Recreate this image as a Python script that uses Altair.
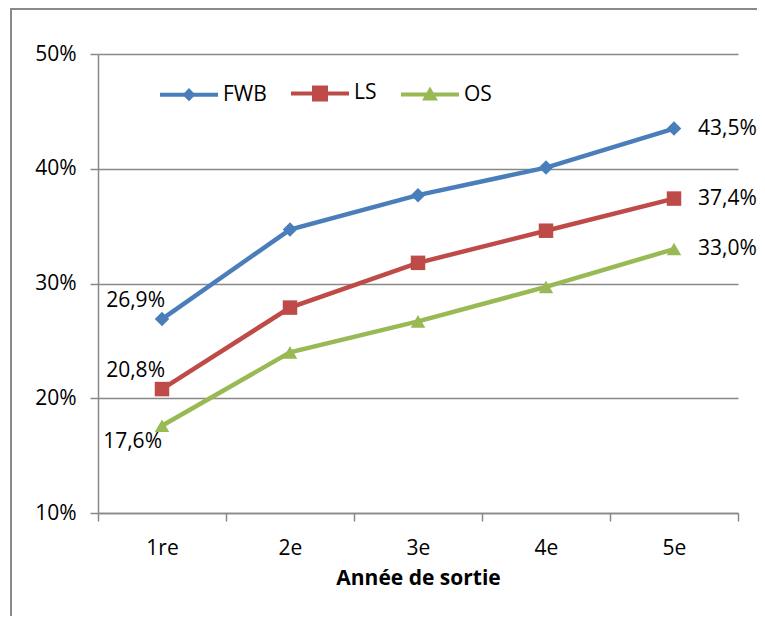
import altair as alt
import pandas as pd

categories = ["1re", "2e", "3e", "4e", "5e"]
series_names = ["FWB", "LS", "OS"]
fwb = [26.9, 34.7, 37.7, 40.1, 43.5]
ls = [20.8, 27.9, 31.8, 34.6, 37.4]
os_ = [17.6, 24.0, 26.7, 29.7, 33.0]
colors = ["#4A7EBB", "#BE4B48", "#98B954"]
y_ticks = [10, 20, 30, 40, 50]

FONT = "Open Sans"
GREY = "#898989"

rows = []
for name, vals in zip(series_names, [fwb, ls, os_]):
    for i, (c, v) in enumerate(zip(categories, vals)):
        pos = "first" if i == 0 else ("last" if i == len(categories) - 1 else "mid")
        rows.append({"year": c, "series": name, "value": v,
                     "label": f"{v:.1f}".replace(".", ",") + "%", "pos": pos})
df = pd.DataFrame(rows)

x = alt.X("year:N", sort=categories,
          scale=alt.Scale(type="band", domain=categories, paddingInner=0, paddingOuter=0),
          axis=alt.Axis(title="Année de sortie", tickBand="extent", grid=False, labelAngle=0,
                        domainColor=GREY, domainWidth=1.5, tickColor=GREY, tickWidth=1.5,
                        tickSize=8, labelPadding=16, labelFont=FONT, labelFontSize=21,
                        labelColor="black", titleFont=FONT, titleFontSize=21,
                        titleFontWeight="bold", titleColor="black", titlePadding=9))
y = alt.Y("value:Q", scale=alt.Scale(domain=[10, 50], nice=False, zero=False),
          axis=alt.Axis(values=y_ticks, labelExpr="datum.value + '%'", title=None,
                        grid=True, gridColor=GREY, gridWidth=1.5,
                        domainColor=GREY, domainWidth=1.5, tickColor=GREY, tickWidth=1.5,
                        tickSize=8, labelPadding=14, labelFont=FONT, labelFontSize=21,
                        labelColor="black"))

color = alt.Color("series:N", scale=alt.Scale(domain=series_names, range=colors), legend=None)

base = alt.Chart(df).encode(x=x, y=y)

lines = base.mark_line(strokeWidth=4.5).encode(color=color, detail="series:N")
points = base.mark_point(filled=True, size=210, opacity=1).encode(
    color=color,
    shape=alt.Shape("series:N", scale=alt.Scale(domain=series_names,
                                                range=["diamond", "square", "triangle-up"]),
                    legend=None))

txt = dict(font=FONT, fontSize=21, color="black")
t_first_up = base.mark_text(align="right", dx=3, dy=-18, **txt).encode(text="label:N").transform_filter(
    "datum.pos == 'first' && datum.series != 'OS'")
t_first_down = base.mark_text(align="right", dx=0, dy=16, **txt).encode(text="label:N").transform_filter(
    "datum.pos == 'first' && datum.series == 'OS'")
t_last = base.mark_text(align="left", dx=24, dy=0, **txt).encode(text="label:N").transform_filter(
    "datum.pos == 'last'")

# legend symbols: line segment plus nested outlines that the 4px stroke fills in
paths = [
    "M-1,0H1M0,-0.128L0.128,0L0,0.128L-0.128,0Z",
    "M-1,0H1M-0.207,-0.207H0.207V0.207H-0.207ZM-0.086,-0.086H0.086V0.086H-0.086Z",
    "M-1,0H1M0,-0.14L0.155,0.13H-0.155Z",
]
leg = alt.Legend(title=None, orient="none", legendX=60, legendY=8, direction="horizontal",
                 symbolSize=3364, symbolStrokeWidth=4, labelFont=FONT, labelFontSize=21,
                 labelColor="black", labelOffset=3, columnPadding=16, padding=0)
legend_layer = alt.Chart(df).transform_filter("false").mark_point(
    filled=False, size=3364, strokeWidth=4, opacity=1).encode(
    color=alt.Color("series:N", scale=alt.Scale(domain=series_names, range=colors), legend=leg),
    shape=alt.Shape("series:N", scale=alt.Scale(domain=series_names, range=paths), legend=leg),
)

border = alt.Chart(alt.Data(values=[{"a": 1}])).mark_rect(
    fill="transparent", stroke=GREY, strokeWidth=2).encode(
    x=alt.value(-87), x2=alt.value(700), y=alt.value(-45), y2=alt.value(620))

chart = alt.layer(border, lines, points, t_first_up, t_first_down, t_last, legend_layer).resolve_scale(
    color="independent", shape="independent"
).properties(
    width=640, height=459,
    autosize=alt.AutoSizeParams(type="none"),
    padding={"left": 90, "top": 46, "right": 19, "bottom": 103},
).configure_view(strokeWidth=0)

chart.save("out.html", embed_options={"renderer": "svg", "actions": False})
